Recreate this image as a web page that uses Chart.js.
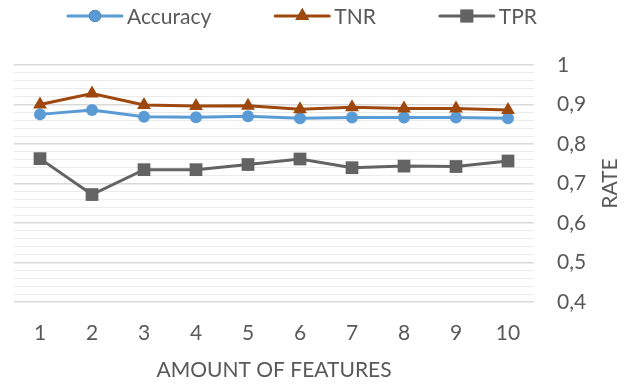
<!DOCTYPE html>
<html>
<head>
<meta charset="utf-8">
<script src="https://cdn.jsdelivr.net/npm/chart.js@4"></script>
<style>
  html, body { margin: 0; padding: 0; background: #fff; }
  #wrap { width: 630px; height: 385px; }
</style>
</head>
<body>
<div id="wrap"><canvas id="lineChart" width="630" height="385"></canvas></div>
<script>
const features = ['1', '2', '3', '4', '5', '6', '7', '8', '9', '10'];
const accuracy = [0.875, 0.886, 0.869, 0.868, 0.870, 0.865, 0.867, 0.867, 0.867, 0.865];
const tnr = [0.900, 0.928, 0.899, 0.896, 0.897, 0.888, 0.893, 0.890, 0.890, 0.886];
const tpr = [0.763, 0.672, 0.735, 0.735, 0.748, 0.762, 0.740, 0.744, 0.743, 0.757];

const textColor = '#595959';
const fontFamily = 'Lato, "Open Sans", sans-serif';

function isMajor(v) {
    return Math.abs(v * 10 - Math.round(v * 10)) < 1e-6;
}

// legend drawn as line + marker, like the office style
const lineLegend = {
    id: 'lineLegend',
    afterDraw(chart) {
        const ctx = chart.ctx;
        ctx.save();
        ctx.font = '21px ' + fontFamily;
        ctx.textBaseline = 'middle';
        let x = 68;
        const y = 16;
        chart.data.datasets.forEach(ds => {
            ctx.strokeStyle = ds.borderColor;
            ctx.lineWidth = 3;
            ctx.lineCap = 'round';
            ctx.beginPath();
            ctx.moveTo(x, y);
            ctx.lineTo(x + 54, y);
            ctx.stroke();
            Chart.helpers.drawPoint(ctx, {
                pointStyle: ds.pointStyle,
                radius: ds.pointRadius,
                borderWidth: 0
            }, x + 27, y);
            ctx.fillStyle = ds.backgroundColor;
            ctx.fill();
            ctx.fillStyle = textColor;
            ctx.fillText(ds.label, x + 59, y + 1);
            x += 59 + ctx.measureText(ds.label).width + 64;
        });
        ctx.restore();
    }
};

// vertical axis title reading bottom to top
const rateTitle = {
    id: 'rateTitle',
    afterDraw(chart) {
        const ctx = chart.ctx;
        const area = chart.chartArea;
        ctx.save();
        ctx.font = '21px ' + fontFamily;
        ctx.fillStyle = textColor;
        ctx.textAlign = 'center';
        ctx.textBaseline = 'middle';
        ctx.translate(610, (area.top + area.bottom) / 2);
        ctx.rotate(-Math.PI / 2);
        ctx.fillText('RATE', 0, 0);
        ctx.restore();
    }
};

const ctx = document.getElementById('lineChart').getContext('2d');
new Chart(ctx, {
    type: 'line',
    data: {
        labels: features,
        datasets: [
            {
                label: 'Accuracy',
                data: accuracy,
                order: 2,
                borderColor: '#5B9BD5',
                backgroundColor: '#5B9BD5',
                borderWidth: 3,
                pointStyle: 'circle',
                pointRadius: 6,
                pointBorderWidth: 0
            },
            {
                label: 'TNR',
                data: tnr,
                order: 1,
                borderColor: '#9E480E',
                backgroundColor: '#9E480E',
                borderWidth: 3,
                pointStyle: 'triangle',
                pointRadius: 8,
                pointBorderWidth: 0
            },
            {
                label: 'TPR',
                data: tpr,
                order: 3,
                borderColor: '#636363',
                backgroundColor: '#636363',
                borderWidth: 3,
                pointStyle: 'rect',
                pointRadius: 9,
                pointBorderWidth: 0
            }
        ]
    },
    options: {
        responsive: false,
        animation: false,
        layout: { padding: { left: 14, top: 65, right: 0, bottom: 0 } },
        plugins: {
            legend: { display: false },
            tooltip: { enabled: false }
        },
        scales: {
            x: {
                offset: true,
                grid: { display: false, drawTicks: false },
                border: { display: false },
                ticks: {
                    color: textColor,
                    padding: 19,
                    font: { family: fontFamily, size: 21 }
                },
                title: {
                    display: true,
                    text: 'AMOUNT OF FEATURES',
                    color: textColor,
                    padding: { top: 0, bottom: 2 },
                    font: { family: fontFamily, size: 21 }
                },
                afterFit: s => { s.height = 83; }
            },
            y: {
                position: 'right',
                min: 0.4,
                max: 1,
                border: { display: false },
                grid: {
                    drawTicks: false,
                    color: c => isMajor(c.tick.value) ? '#D9D9D9' : '#EBEBEB',
                    lineWidth: c => isMajor(c.tick.value) ? 1.5 : 1
                },
                ticks: {
                    stepSize: 0.02,
                    autoSkip: false,
                    color: textColor,
                    padding: 23,
                    font: { family: fontFamily, size: 21 },
                    callback: v => isMajor(v) ? String(Math.round(v * 10) / 10).replace('.', ',') : ''
                },
                afterFit: s => { s.width = 96; }
            }
        }
    },
    plugins: [lineLegend, rateTitle]
});
</script>
</body>
</html>
